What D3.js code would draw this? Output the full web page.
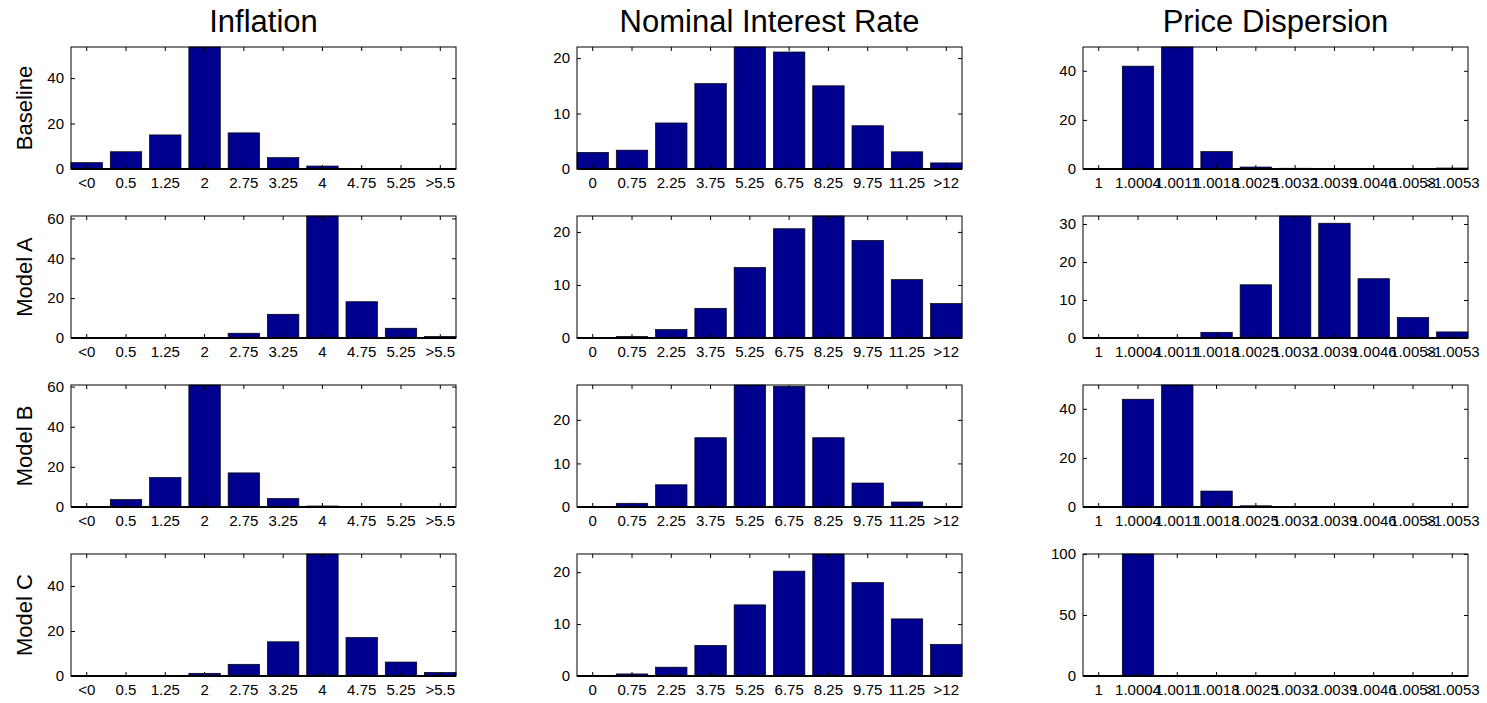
<!DOCTYPE html>
<html>
<head>
<meta charset="utf-8">
<script src="https://cdn.jsdelivr.net/npm/d3@7"></script>
<style>
  body { margin: 0; background: #fff; }
  text { font-family: "Liberation Sans", Arial, sans-serif; fill: #000; }
</style>
</head>
<body>
<div id="chart-area"></div>
<script>
const WIDTH = 1487;
const HEIGHT = 703;

// column titles and row labels
const titles = ["Inflation", "Nominal Interest Rate", "Price Dispersion"];
const models = ["Baseline", "Model A", "Model B", "Model C"];

// bin labels
const inflationBins = ["<0", "0.5", "1.25", "2", "2.75", "3.25", "4", "4.75", "5.25", ">5.5"];
const rateBins = ["0", "0.75", "2.25", "3.75", "5.25", "6.75", "8.25", "9.75", "11.25", ">12"];
const dispersionBins = ["1", "1.0004", "1.0011", "1.0018", "1.0025", "1.0032", "1.0039", "1.0046", "1.0053", ">1.0053"];

// frequencies (%)
const inflationBaseline = [2.8, 7.6, 15.0, 53.7, 15.9, 5.0, 1.3, 0.1, 0.05, 0.05];
const inflationModelA = [0, 0, 0, 0.1, 2.4, 11.9, 61.2, 18.2, 4.9, 0.8];
const inflationModelB = [0, 3.7, 14.7, 60.8, 17.0, 4.2, 0.5, 0.05, 0, 0];
const inflationModelC = [0.05, 0.05, 0.05, 1.2, 5.2, 15.2, 54.2, 17.1, 6.2, 1.6];

const rateBaseline = [3.0, 3.4, 8.3, 15.4, 22.0, 21.1, 15.0, 7.8, 3.1, 1.1];
const rateModelA = [0.05, 0.3, 1.6, 5.6, 13.3, 20.6, 23.0, 18.4, 11.0, 6.5];
const rateModelB = [0, 0.85, 5.1, 15.9, 28.0, 27.7, 15.9, 5.5, 1.15, 0.05];
const rateModelC = [0.05, 0.4, 1.7, 5.9, 13.7, 20.2, 23.5, 18.0, 11.0, 6.1];

const dispersionBaseline = [0, 41.9, 49.7, 7.1, 0.8, 0.3, 0.2, 0, 0.2, 0.4];
const dispersionModelA = [0, 0, 0.05, 1.5, 14.0, 32.1, 30.2, 15.6, 5.4, 1.6];
const dispersionModelB = [0, 43.9, 49.7, 6.5, 0.5, 0.05, 0.05, 0.05, 0.05, 0.05];
const dispersionModelC = [0, 100, 0, 0, 0, 0, 0, 0, 0, 0];

// y tick values per row (inflation, rate, dispersion)
const yTicksBaseline = [[0, 20, 40], [0, 10, 20], [0, 20, 40]];
const yTicksModelA = [[0, 20, 40, 60], [0, 10, 20], [0, 10, 20, 30]];
const yTicksModelB = [[0, 20, 40, 60], [0, 10, 20], [0, 20, 40]];
const yTicksModelC = [[0, 20, 40], [0, 10, 20], [0, 50, 100]];

const bins = [inflationBins, rateBins, dispersionBins];
const values = [
  [inflationBaseline, rateBaseline, dispersionBaseline],
  [inflationModelA, rateModelA, dispersionModelA],
  [inflationModelB, rateModelB, dispersionModelB],
  [inflationModelC, rateModelC, dispersionModelC]
];
const yTicks = [yTicksBaseline, yTicksModelA, yTicksModelB, yTicksModelC];

// layout
const colLeft = [71, 577, 1083];
const rowTop = [47, 216, 385, 554];
const graphWidth = 385;
const graphHeight = 122;
const tickLen = 4;

const svg = d3.select("#chart-area").append("svg")
  .attr("width", WIDTH)
  .attr("height", HEIGHT);

svg.append("rect")
  .attr("width", WIDTH)
  .attr("height", HEIGHT)
  .attr("fill", "#fff");

// titles
titles.forEach((t, c) => {
  svg.append("text")
    .attr("x", colLeft[c] + graphWidth / 2)
    .attr("y", 32)
    .attr("text-anchor", "middle")
    .attr("font-size", "31px")
    .text(t);
});

models.forEach((m, r) => {
  // row label
  svg.append("text")
    .attr("transform", `translate(32, ${rowTop[r] + graphHeight / 2}) rotate(-90)`)
    .attr("text-anchor", "middle")
    .attr("font-size", "22px")
    .text(m);

  bins.forEach((cats, c) => {
    const data = values[r][c];

    const graph = svg.append("g")
      .attr("transform", `translate(${colLeft[c]}, ${rowTop[r]})`);

    const x = d3.scaleBand()
      .domain(cats)
      .range([0, graphWidth])
      .paddingInner(0.2)
      .paddingOuter(0);

    const y = d3.scaleLinear()
      .domain([0, d3.max(data)])
      .range([graphHeight, 0]);

    // bars
    graph.selectAll("rect.bar")
      .data(data)
      .enter().append("rect")
        .attr("class", "bar")
        .attr("x", (d, i) => x(cats[i]))
        .attr("y", d => y(d))
        .attr("width", x.bandwidth())
        .attr("height", d => graphHeight - y(d))
        .attr("fill", "#00008f")
        .attr("stroke", "#000")
        .attr("stroke-width", 0.7);

    // axes, ticks pointing inward on every side
    graph.append("g")
      .attr("transform", `translate(0, ${graphHeight})`)
      .call(d3.axisBottom(x).tickSizeInner(-tickLen).tickSizeOuter(0).tickPadding(8));

    graph.append("g")
      .call(d3.axisTop(x).tickSizeInner(-tickLen).tickSizeOuter(0).tickFormat(""));

    graph.append("g")
      .call(d3.axisLeft(y).tickValues(yTicks[r][c]).tickSizeInner(-tickLen).tickSizeOuter(0).tickPadding(7));

    graph.append("g")
      .attr("transform", `translate(${graphWidth}, 0)`)
      .call(d3.axisRight(y).tickValues(yTicks[r][c]).tickSizeInner(-tickLen).tickSizeOuter(0).tickFormat(""));

    graph.selectAll(".domain").remove();
    graph.selectAll(".tick line").attr("stroke", "#000");
    graph.selectAll(".tick text")
      .attr("font-size", "15px")
      .attr("fill", "#000")
      .style("font-family", "\"Liberation Sans\", Arial, sans-serif");

    // box, with a heavier baseline
    graph.append("rect")
      .attr("width", graphWidth)
      .attr("height", graphHeight)
      .attr("fill", "none")
      .attr("stroke", "#000")
      .attr("stroke-width", 1);

    graph.append("line")
      .attr("x1", 0)
      .attr("x2", graphWidth)
      .attr("y1", graphHeight)
      .attr("y2", graphHeight)
      .attr("stroke", "#000")
      .attr("stroke-width", 2);
  });
});
</script>
</body>
</html>
